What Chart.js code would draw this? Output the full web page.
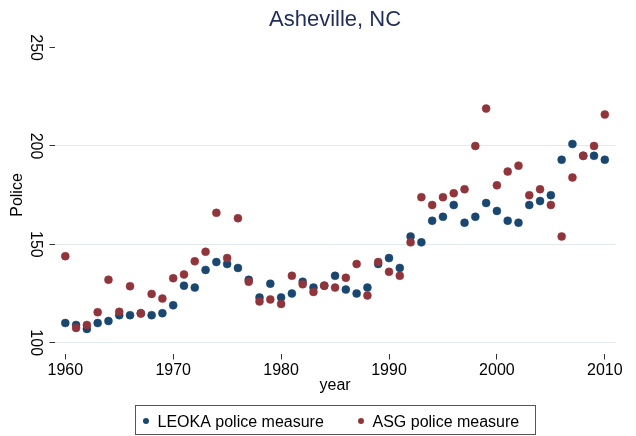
<!DOCTYPE html>
<html>
<head>
<meta charset="utf-8">
<script src="https://cdn.jsdelivr.net/npm/chart.js@4.4.1/dist/chart.umd.min.js"></script>
<style>
  html, body { margin: 0; padding: 0; background: #ffffff; }
  canvas { display: block; }
</style>
</head>
<body>
<canvas id="c" width="636" height="436"></canvas>
<script>
const chartTitle = "Asheville, NC";
const xTitle = "year";
const yTitle = "Police";
const seriesNames = ["LEOKA police measure", "ASG police measure"];

const years = [1960, 1961, 1962, 1963, 1964, 1965, 1966, 1967, 1968, 1969,
               1970, 1971, 1972, 1973, 1974, 1975, 1976, 1977, 1978, 1979,
               1980, 1981, 1982, 1983, 1984, 1985, 1986, 1987, 1988, 1989,
               1990, 1991, 1992, 1993, 1994, 1995, 1996, 1997, 1998, 1999,
               2000, 2001, 2002, 2003, 2004, 2005, 2006, 2007, 2008, 2009,
               2010];

const leoka = [110, 109, 107, 110, 111, 114, 114, 115, 114, 115,
               119, 129, 128, 137, 141, 140, 138, 132, 123, 130,
               123, 125, 131, 128, 129, 134, 127, 125, 128, 140,
               143, 138, 154, 151, 162, 164, 170, 161, 164, 171,
               167, 162, 161, 170, 172, 175, 193, 201, 195, 195,
               193];

const asg = [144, 107.5, 109, 115.5, 132, 115.7, 128.7, 114.8, 124.8, 122.4,
             132.8, 134.7, 141.4, 146.2, 166, 143, 163.3, 131, 121, 122,
             119.7, 134, 129.7, 125.8, 129, 128, 133, 140, 124, 141,
             136, 134, 151, 174, 170, 174, 176, 178, 200, 219,
             180, 187, 190, 175, 178, 170, 154, 184, 195, 200,
             216];

const xTicks = [1960, 1970, 1980, 1990, 2000, 2010];
const yTicks = [100, 150, 200, 250];

const BLUE = '#1a476f';
const RED = '#90353b';
const FONT = '"Liberation Sans", Arial, Helvetica, sans-serif';

Chart.defaults.font.family = FONT;
Chart.defaults.color = '#000000';

const extrasPlugin = {
  id: 'extras',
  beforeDraw(chart) {
    const ctx = chart.ctx;
    ctx.save();
    ctx.fillStyle = '#ffffff';
    ctx.fillRect(0, 0, chart.width, chart.height);
    ctx.restore();
  },
  afterDraw(chart) {
    const ctx = chart.ctx;
    // y-axis title
    ctx.save();
    ctx.font = '16px ' + FONT;
    ctx.fillStyle = '#000000';
    ctx.textAlign = 'center';
    ctx.textBaseline = 'middle';
    ctx.translate(17.5, 195);
    ctx.rotate(-Math.PI / 2);
    ctx.fillText(yTitle, 0, 0);
    ctx.restore();

    // legend box
    const bx = 135.5, by = 405.5, bw = 400, bh = 29;
    ctx.save();
    ctx.strokeStyle = '#555555';
    ctx.lineWidth = 1;
    ctx.strokeRect(bx, by, bw, bh);
    ctx.font = '16px ' + FONT;
    ctx.textAlign = 'left';
    ctx.textBaseline = 'alphabetic';
    const itemX = [bx + 10.5, bx + 225.5];
    chart.data.datasets.forEach((ds, i) => {
      ctx.fillStyle = ds.backgroundColor;
      ctx.beginPath();
      ctx.arc(itemX[i], 421, 3, 0, Math.PI * 2);
      ctx.fill();
      ctx.fillStyle = '#000000';
      ctx.fillText(ds.label, itemX[i] + 11.5, 427.3);
    });
    ctx.restore();
  }
};

new Chart(document.getElementById('c'), {
  type: 'scatter',
  data: {
    datasets: [
      {
        label: seriesNames[0],
        data: years.map((yr, i) => ({ x: yr, y: leoka[i] })),
        backgroundColor: BLUE,
        borderColor: BLUE,
        pointRadius: 4,
        pointBorderWidth: 0.5,
        order: 1
      },
      {
        label: seriesNames[1],
        data: years.map((yr, i) => ({ x: yr, y: asg[i] })),
        backgroundColor: RED,
        borderColor: RED,
        pointRadius: 4,
        pointBorderWidth: 0.5,
        order: 0
      }
    ]
  },
  options: {
    responsive: false,
    animation: false,
    devicePixelRatio: 1,
    layout: { padding: { left: 0, right: 20.4, top: 0, bottom: 0 } },
    plugins: {
      legend: { display: false },
      tooltip: { enabled: false },
      title: {
        display: true,
        text: chartTitle,
        fullSize: false,
        color: '#1f2d58',
        font: { size: 22, weight: 'normal', family: FONT },
        padding: { top: 7.2, bottom: 14.05 }
      }
    },
    scales: {
      x: {
        type: 'linear',
        min: 1959,
        max: 2011,
        afterBuildTicks: s => { s.ticks = xTicks.map(v => ({ value: v })); },
        afterFit: s => { s.height = 82.5; },
        border: { display: false },
        grid: {
          drawOnChartArea: false,
          drawTicks: true,
          tickLength: 6,
          tickColor: '#333333',
          tickWidth: 1
        },
        ticks: {
          font: { size: 16 },
          color: '#000000',
          padding: 1,
          maxRotation: 0,
          minRotation: 0,
          callback: v => String(v)
        },
        title: {
          display: true,
          text: xTitle,
          font: { size: 16 },
          color: '#000000',
          padding: { top: 0, bottom: 40.4 }
        }
      },
      y: {
        type: 'linear',
        min: 94.5,
        max: 250,
        afterBuildTicks: s => { s.ticks = yTicks.map(v => ({ value: v })); },
        afterFit: s => { s.width = 54.5; },
        border: { display: false },
        grid: {
          color: c => (c.tick && c.tick.value === 250) ? 'rgba(0,0,0,0)' : '#e2eaee',
          lineWidth: 1,
          drawTicks: true,
          tickLength: 5,
          tickColor: '#333333',
          tickWidth: 1
        },
        ticks: {
          font: { size: 16 },
          color: '#000000',
          minRotation: -90,
          maxRotation: -90,
          crossAlign: 'center',
          padding: 1,
          callback: v => String(v)
        }
      }
    }
  },
  plugins: [extrasPlugin]
});
</script>
</body>
</html>
